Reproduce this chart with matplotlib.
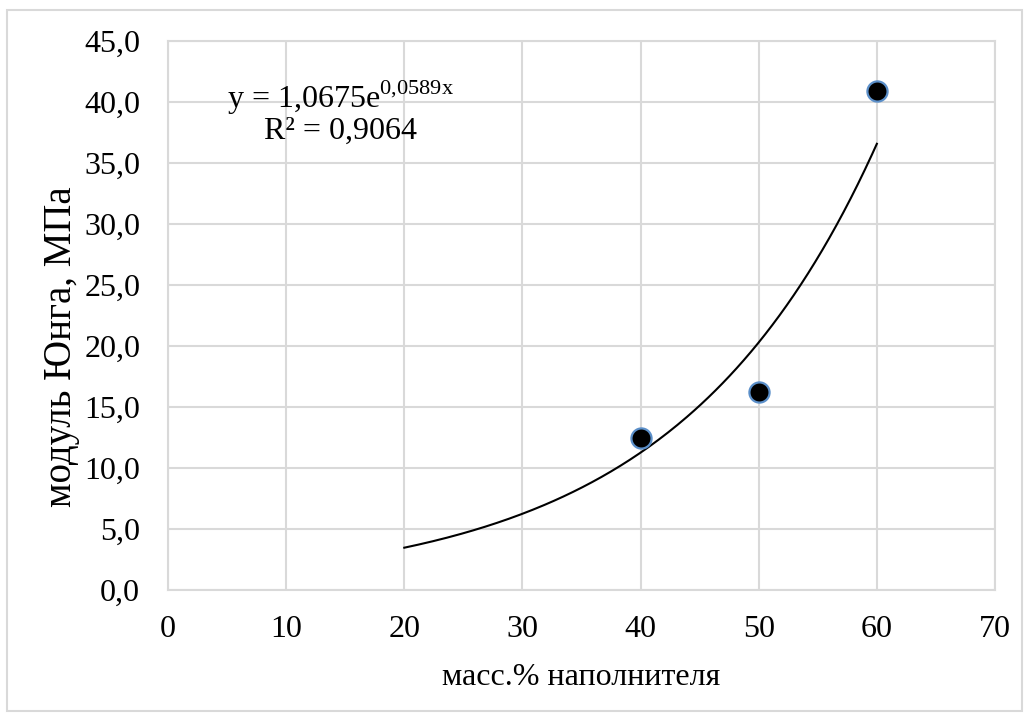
import matplotlib.pyplot as plt
import numpy as np
from matplotlib.patches import Rectangle

plt.rcParams['font.family'] = ['Liberation Serif', 'DejaVu Serif']
plt.rcParams['mathtext.fontset'] = 'custom'
plt.rcParams['mathtext.rm'] = 'Liberation Serif'

# data
filler = [40, 50, 60]
modulus = [12.5, 16.2, 40.9]
fit_a = 1.0675
fit_b = 0.0589
fit_from, fit_to = 20, 60

xticks = [0, 10, 20, 30, 40, 50, 60, 70]
yticks = [0, 5, 10, 15, 20, 25, 30, 35, 40, 45]

W, H = 1029, 719
fig = plt.figure(figsize=(W / 100, H / 100), dpi=100)
ax = fig.add_axes([168 / W, 1 - 590 / H, (995 - 168) / W, (590 - 41) / H])

fig.patches.append(Rectangle((7 / W, 1 - 711 / H), 1015 / W, 701 / H,
                             transform=fig.transFigure, fill=False,
                             edgecolor='#d9d9d9', linewidth=1.5))

xf = np.linspace(fit_from, fit_to, 200)
ax.plot(xf, fit_a * np.exp(fit_b * xf), color='black', linewidth=1.5, zorder=3)
ax.plot(filler, modulus, 'o', markersize=14.5, markerfacecolor='black',
        markeredgecolor='#5b8fc9', markeredgewidth=1.6, zorder=4, clip_on=False)

ax.set_xlim(0, 70)
ax.set_ylim(0, 45)
ax.set_xticks(xticks)
ax.set_yticks(yticks)
ax.set_xticklabels([str(v) for v in xticks])
ax.set_yticklabels([f'{v:.1f}'.replace('.', ',') for v in yticks])
ax.tick_params(axis='both', length=0, labelsize=23, colors='black')
ax.tick_params(axis='y', pad=20)
ax.tick_params(axis='x', pad=18)
ax.grid(True, color='#d9d9d9', linewidth=1.5)
ax.set_axisbelow(True)
for s in ax.spines.values():
    s.set_color('#d9d9d9')
    s.set_linewidth(1.5)

ax.set_xlabel('масс.% наполнителя', fontsize=23, labelpad=14)
ax.set_ylabel('модуль Юнга, МПа', fontsize=28)
ax.yaxis.set_label_coords(-88 / 827, 0.443)

ax.text(14.6, 40.3, r'y = 1,0675e$^{\mathrm{0{,}0589x}}$', fontsize=23,
        ha='center', va='center')
ax.text(14.6, 37.6, 'R² = 0,9064', fontsize=23, ha='center', va='center')

fig.savefig('out.png', dpi=100)
